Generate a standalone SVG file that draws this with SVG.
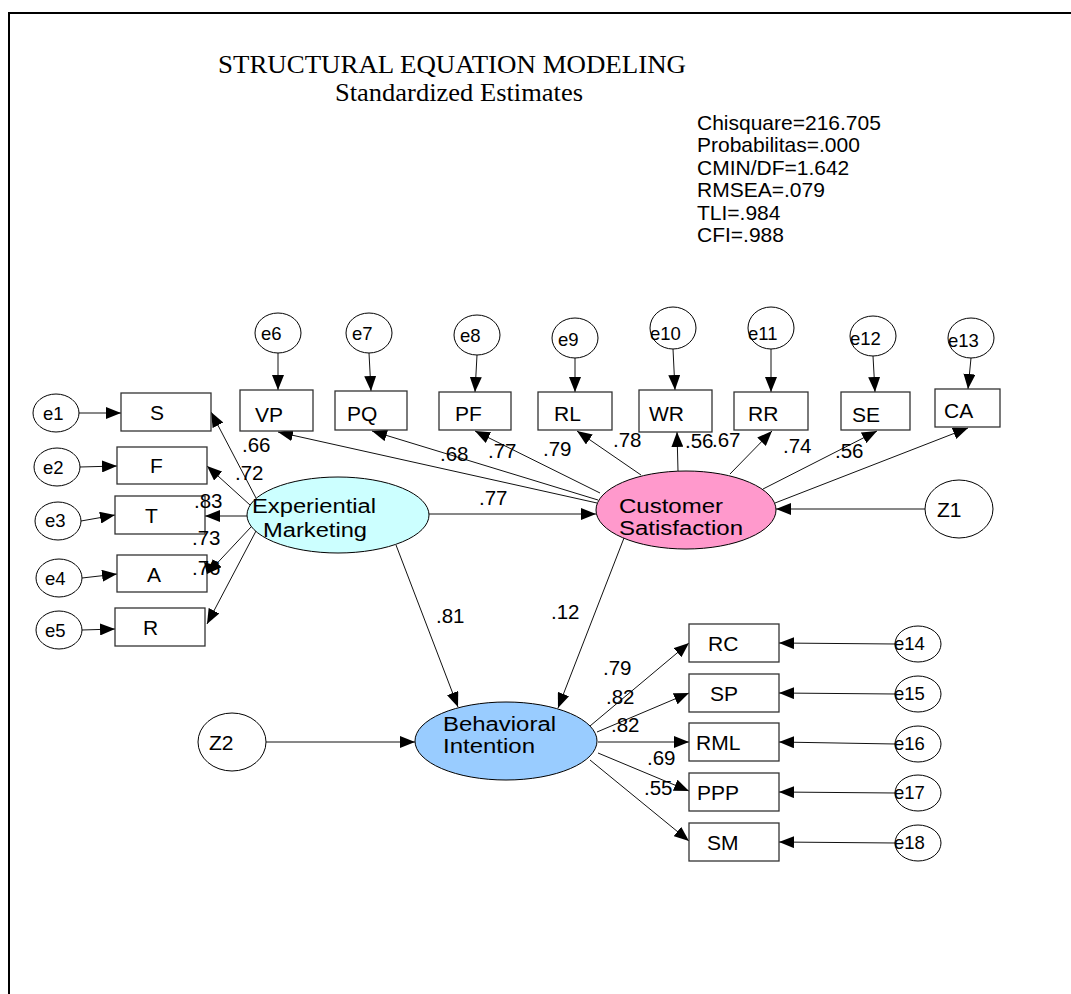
<svg xmlns="http://www.w3.org/2000/svg" width="1071" height="994" viewBox="0 0 1071 994">
<style>
.box{fill:#fff;stroke:#333;stroke-width:1.3}
.err{fill:#fff;stroke:#000;stroke-width:1}
.lat{stroke:#000;stroke-width:1}
.t{font-family:"Liberation Sans",Arial,sans-serif;fill:#000}
.bl{font-size:21px}
.el{font-size:18.5px}
.ll{font-size:19.5px}
.est{font-size:20.5px}
.fit{font-size:21px}
.ttl{font-family:"Liberation Serif","Times New Roman",serif;font-size:25.5px;fill:#000}
.c line{stroke:#111;stroke-width:1;marker-end:url(#ah)}
</style>
<defs>
<marker id="ah" markerWidth="15" markerHeight="12" refX="15" refY="6" orient="auto" markerUnits="userSpaceOnUse"><path d="M0,0 L15,6 L0,12 z" fill="#000"/></marker>
</defs>
<rect width="1071" height="994" fill="#fff"/>
<path d="M9,994 V13 H1071" fill="none" stroke="#000" stroke-width="2"/>
<g id="title">
<text class="ttl" x="218" y="73" textLength="468" lengthAdjust="spacingAndGlyphs">STRUCTURAL EQUATION MODELING</text>
<text class="ttl" x="335" y="101" textLength="248" lengthAdjust="spacingAndGlyphs">Standardized Estimates</text>
</g>
<g id="fit" class="t fit">
<text x="697" y="130">Chisquare=216.705</text>
<text x="697" y="152">Probabilitas=.000</text>
<text x="697" y="175">CMIN/DF=1.642</text>
<text x="697" y="197">RMSEA=.079</text>
<text x="697" y="220">TLI=.984</text>
<text x="697" y="242">CFI=.988</text>
</g>
<g class="c" id="connectors">
<line x1="79" y1="413" x2="121" y2="413"/>
<line x1="80" y1="467" x2="117" y2="466"/>
<line x1="81" y1="521" x2="115" y2="515"/>
<line x1="82" y1="578" x2="117" y2="574"/>
<line x1="82" y1="630" x2="115" y2="629"/>
<line x1="256" y1="498" x2="211" y2="412"/>
<line x1="250" y1="505" x2="207" y2="466"/>
<line x1="247" y1="516" x2="205" y2="516"/>
<line x1="251" y1="527" x2="207" y2="574"/>
<line x1="256" y1="531" x2="207" y2="624"/>
<line x1="278" y1="353" x2="278" y2="390"/>
<line x1="369" y1="353" x2="371" y2="391"/>
<line x1="477" y1="355" x2="475" y2="392"/>
<line x1="575" y1="358" x2="575" y2="392"/>
<line x1="673" y1="349" x2="675" y2="390"/>
<line x1="771" y1="349" x2="771" y2="392"/>
<line x1="873" y1="356" x2="875" y2="392"/>
<line x1="971" y1="358" x2="968" y2="389"/>
<line x1="597" y1="503" x2="278" y2="432"/>
<line x1="598" y1="500" x2="372" y2="431"/>
<line x1="600" y1="493" x2="475" y2="431"/>
<line x1="641" y1="475" x2="577" y2="431"/>
<line x1="678" y1="471" x2="677" y2="432"/>
<line x1="730" y1="474" x2="772" y2="431"/>
<line x1="763" y1="489" x2="877" y2="431"/>
<line x1="775" y1="503" x2="968" y2="428"/>
<line x1="925" y1="509" x2="776" y2="509"/>
<line x1="429" y1="514" x2="596" y2="514"/>
<line x1="396" y1="545" x2="458" y2="707"/>
<line x1="624" y1="538" x2="558" y2="708"/>
<line x1="266" y1="742" x2="415" y2="742"/>
<line x1="590" y1="726" x2="689" y2="643"/>
<line x1="597" y1="732" x2="689" y2="693"/>
<line x1="598" y1="742" x2="689" y2="742"/>
<line x1="598" y1="753" x2="689" y2="791"/>
<line x1="590" y1="760" x2="689" y2="841"/>
<line x1="895" y1="644" x2="779" y2="643"/>
<line x1="895" y1="694" x2="779" y2="693"/>
<line x1="895" y1="744" x2="779" y2="742"/>
<line x1="895" y1="793" x2="779" y2="792"/>
<line x1="895" y1="843" x2="779" y2="842"/>
</g>
<g id="e1"><ellipse class="err" cx="56" cy="413" rx="23" ry="19"/><text class="t el" x="43" y="420">e1</text></g>
<g id="e2"><ellipse class="err" cx="57" cy="467" rx="23" ry="19"/><text class="t el" x="43" y="474">e2</text></g>
<g id="e3"><ellipse class="err" cx="58" cy="521" rx="23" ry="19"/><text class="t el" x="45" y="527">e3</text></g>
<g id="e4"><ellipse class="err" cx="59" cy="578" rx="23" ry="19"/><text class="t el" x="45" y="585">e4</text></g>
<g id="e5"><ellipse class="err" cx="59" cy="630" rx="23" ry="19"/><text class="t el" x="45" y="637">e5</text></g>
<g id="S"><rect class="box" x="121" y="393" width="90" height="38"/><text class="t bl" x="150" y="420">S</text></g>
<g id="F"><rect class="box" x="117" y="447" width="90" height="37"/><text class="t bl" x="150" y="473">F</text></g>
<g id="T"><rect class="box" x="115" y="496" width="90" height="38"/><text class="t bl" x="145" y="523">T</text></g>
<g id="A"><rect class="box" x="117" y="555" width="90" height="37"/><text class="t bl" x="147" y="582">A</text></g>
<g id="R"><rect class="box" x="115" y="608" width="90" height="38"/><text class="t bl" x="143" y="635">R</text></g>
<g id="e6"><ellipse class="err" cx="278" cy="333" rx="23" ry="20"/><text class="t el" x="261" y="340">e6</text></g>
<g id="e7"><ellipse class="err" cx="369" cy="333" rx="23" ry="20"/><text class="t el" x="352" y="340">e7</text></g>
<g id="e8"><ellipse class="err" cx="477" cy="335" rx="23" ry="20"/><text class="t el" x="460" y="342">e8</text></g>
<g id="e9"><ellipse class="err" cx="575" cy="338" rx="23" ry="20"/><text class="t el" x="558" y="346">e9</text></g>
<g id="e10"><ellipse class="err" cx="673" cy="328" rx="23" ry="21"/><text class="t el" x="650" y="340">e10</text></g>
<g id="e11"><ellipse class="err" cx="771" cy="328" rx="23" ry="21"/><text class="t el" x="748" y="340">e11</text></g>
<g id="e12"><ellipse class="err" cx="873" cy="336" rx="23" ry="20"/><text class="t el" x="850" y="345">e12</text></g>
<g id="e13"><ellipse class="err" cx="971" cy="338" rx="23" ry="20"/><text class="t el" x="948" y="347">e13</text></g>
<g id="VP"><rect class="box" x="240" y="390" width="73" height="41"/><text class="t bl" x="255" y="422">VP</text></g>
<g id="PQ"><rect class="box" x="335" y="391" width="72" height="39"/><text class="t bl" x="347" y="421">PQ</text></g>
<g id="PF"><rect class="box" x="439" y="392" width="72" height="38"/><text class="t bl" x="455" y="421">PF</text></g>
<g id="RL"><rect class="box" x="538" y="392" width="74" height="38"/><text class="t bl" x="554" y="421">RL</text></g>
<g id="WR"><rect class="box" x="639" y="390" width="73" height="42"/><text class="t bl" x="649" y="421">WR</text></g>
<g id="RR"><rect class="box" x="734" y="392" width="74" height="38"/><text class="t bl" x="748" y="421">RR</text></g>
<g id="SE"><rect class="box" x="841" y="392" width="69" height="38"/><text class="t bl" x="852" y="422">SE</text></g>
<g id="CA"><rect class="box" x="935" y="389" width="65" height="38"/><text class="t bl" x="944" y="418">CA</text></g>
<g id="EM"><ellipse class="lat" cx="338" cy="515" rx="91" ry="38" fill="#CCFFFF"/><text class="t ll" x="252" y="513" textLength="124" lengthAdjust="spacingAndGlyphs">Experiential</text><text class="t ll" x="263" y="537" textLength="104" lengthAdjust="spacingAndGlyphs">Marketing</text></g>
<g id="CS"><ellipse class="lat" cx="686" cy="510" rx="90" ry="39" fill="#FF99CC"/><text class="t ll" x="619" y="513" textLength="104" lengthAdjust="spacingAndGlyphs">Customer</text><text class="t ll" x="619" y="535" textLength="124" lengthAdjust="spacingAndGlyphs">Satisfaction</text></g>
<g id="Z1"><ellipse class="err" cx="959" cy="509" rx="34" ry="29"/><text class="t bl" x="937" y="517">Z1</text></g>
<g id="BI"><ellipse class="lat" cx="506" cy="741" rx="91" ry="39" fill="#99CCFF"/><text class="t ll" x="443" y="731" textLength="113" lengthAdjust="spacingAndGlyphs">Behavioral</text><text class="t ll" x="443" y="753" textLength="92" lengthAdjust="spacingAndGlyphs">Intention</text></g>
<g id="Z2"><ellipse class="err" cx="232" cy="742" rx="34" ry="29"/><text class="t bl" x="209" y="750">Z2</text></g>
<g id="RC"><rect class="box" x="689" y="624" width="90" height="38"/><text class="t bl" x="708" y="651">RC</text></g>
<g id="SP"><rect class="box" x="689" y="674" width="90" height="38"/><text class="t bl" x="710" y="701">SP</text></g>
<g id="RML"><rect class="box" x="689" y="723" width="90" height="38"/><text class="t bl" x="696" y="750">RML</text></g>
<g id="PPP"><rect class="box" x="689" y="773" width="90" height="38"/><text class="t bl" x="697" y="800">PPP</text></g>
<g id="SM"><rect class="box" x="689" y="823" width="90" height="38"/><text class="t bl" x="707" y="850">SM</text></g>
<g id="e14"><ellipse class="err" cx="918" cy="644" rx="23" ry="18"/><text class="t el" x="894" y="650">e14</text></g>
<g id="e15"><ellipse class="err" cx="918" cy="694" rx="23" ry="18"/><text class="t el" x="894" y="700">e15</text></g>
<g id="e16"><ellipse class="err" cx="918" cy="744" rx="23" ry="18"/><text class="t el" x="894" y="750">e16</text></g>
<g id="e17"><ellipse class="err" cx="918" cy="793" rx="23" ry="18"/><text class="t el" x="894" y="799">e17</text></g>
<g id="e18"><ellipse class="err" cx="918" cy="843" rx="23" ry="18"/><text class="t el" x="894" y="849">e18</text></g>
<g id="estimates" class="t est">
<text x="242" y="452">.66</text>
<text x="235" y="480">.72</text>
<text x="194" y="508">.83</text>
<text x="192" y="545">.73</text>
<text x="192" y="575">.76</text>
<text x="440" y="461">.68</text>
<text x="488" y="458">.77</text>
<text x="543" y="456">.79</text>
<text x="613" y="447">.78</text>
<text x="685" y="448">.56</text>
<text x="712" y="447">.67</text>
<text x="783" y="453">.74</text>
<text x="835" y="458">.56</text>
<text x="479" y="505">.77</text>
<text x="436" y="623">.81</text>
<text x="551" y="619">.12</text>
<text x="603" y="675">.79</text>
<text x="606" y="704">.82</text>
<text x="611" y="732">.82</text>
<text x="647" y="765">.69</text>
<text x="644" y="795">.55</text>
</g>
<path d="M207,574 l-3,-12 l10,3 z" fill="#000"/>
</svg>
